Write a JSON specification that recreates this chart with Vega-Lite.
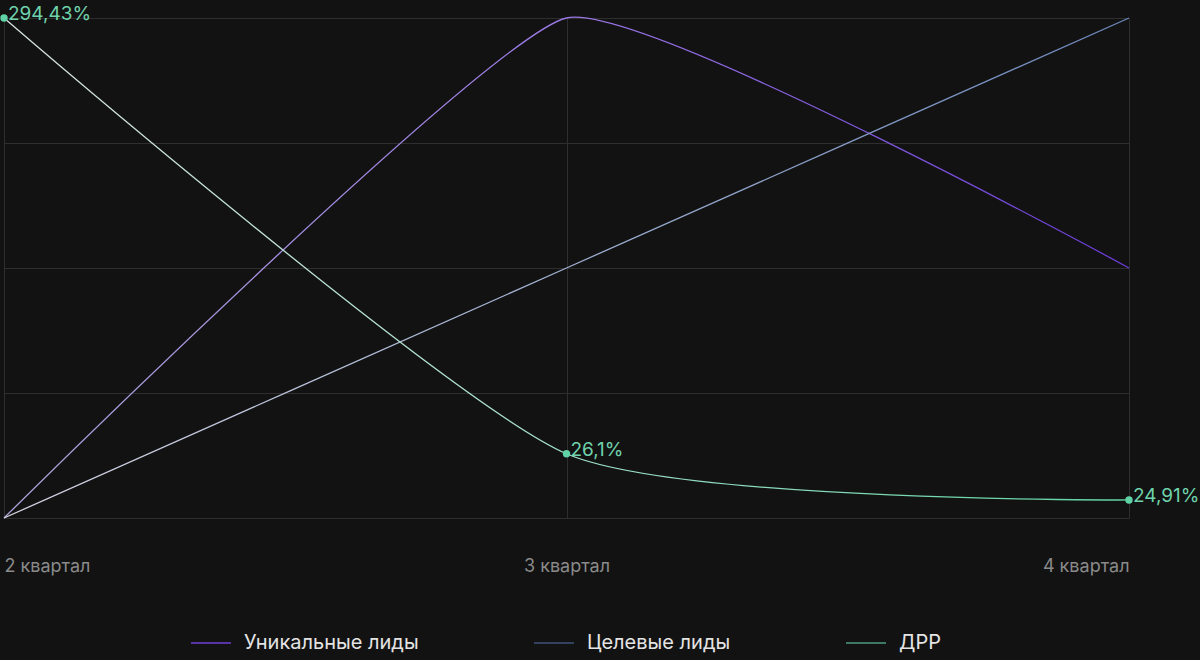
{
  "$schema": "https://vega.github.io/schema/vega-lite/v6.json",
  "width": 1125,
  "height": 500,
  "autosize": {"type": "none"},
  "padding": {"left": 4, "top": 18, "right": 71, "bottom": 142},
  "background": "#121212",
  "data": {
    "values": [
      {"quarter": "2 квартал", "series": "Уникальные лиды", "value": 0},
      {"quarter": "3 квартал", "series": "Уникальные лиды", "value": 2},
      {"quarter": "4 квартал", "series": "Уникальные лиды", "value": 1},
      {"quarter": "2 квартал", "series": "Целевые лиды", "value": 0},
      {"quarter": "3 квартал", "series": "Целевые лиды", "value": 1},
      {"quarter": "4 квартал", "series": "Целевые лиды", "value": 2},
      {"quarter": "2 квартал", "series": "ДРР", "value": 294.43},
      {"quarter": "3 квартал", "series": "ДРР", "value": 26.1},
      {"quarter": "4 квартал", "series": "ДРР", "value": 24.91}
    ]
  },
  "encoding": {
    "x": {
      "field": "quarter",
      "type": "ordinal",
      "sort": ["2 квартал", "3 квартал", "4 квартал"],
      "scale": {"type": "point", "padding": 0},
      "axis": {
        "title": null,
        "labelAngle": 0,
        "labelFlush": true,
        "ticks": false,
        "domain": false,
        "grid": true,
        "gridColor": "#2e2e2e",
        "labelColor": "#8a8a8a",
        "labelFont": "Inter",
        "labelFontSize": 18,
        "labelPadding": 39
      }
    }
  },
  "layer": [
    {
      "transform": [{"filter": "datum.series != 'ДРР'"}],
      "encoding": {
        "y": {
          "field": "value",
          "type": "quantitative",
          "scale": {"domain": [0, 2], "nice": false},
          "axis": {
            "title": null,
            "labels": false,
            "ticks": false,
            "domain": false,
            "values": [0, 0.5, 1, 1.5, 2],
            "gridColor": "#2e2e2e"
          }
        }
      },
      "layer": [
        {
          "transform": [{"filter": "datum.series == 'Уникальные лиды'"}],
          "mark": {
            "type": "line",
            "interpolate": "cardinal",
            "tension": 0.6,
            "strokeWidth": 1.3,
            "stroke": {
              "gradient": "linear",
              "x1": 0, "y1": 0, "x2": 1, "y2": 0,
              "stops": [
                {"offset": 0, "color": "#aea4da"},
                {"offset": 0.5, "color": "#9a78e6"},
                {"offset": 1, "color": "#6a3bd6"}
              ]
            }
          }
        },
        {
          "transform": [{"filter": "datum.series == 'Целевые лиды'"}],
          "mark": {
            "type": "line",
            "interpolate": "cardinal",
            "tension": 0.6,
            "strokeWidth": 1.3,
            "stroke": {
              "gradient": "linear",
              "x1": 0, "y1": 0, "x2": 1, "y2": 0,
              "stops": [
                {"offset": 0, "color": "#d4d4e2"},
                {"offset": 0.5, "color": "#9fb0d2"},
                {"offset": 1, "color": "#6c86ba"}
              ]
            }
          }
        }
      ]
    },
    {
      "transform": [{"filter": "datum.series == 'ДРР'"}],
      "encoding": {
        "y": {
          "field": "value",
          "type": "quantitative",
          "scale": {"type": "pow", "exponent": -2.15, "domain": [24.49, 294.43], "zero": false, "nice": false},
          "axis": null
        }
      },
      "layer": [
        {
          "mark": {
            "type": "line",
            "interpolate": "cardinal",
            "tension": 0.4,
            "strokeWidth": 1.3,
            "stroke": {
              "gradient": "linear",
              "x1": 0, "y1": 0, "x2": 1, "y2": 0,
              "stops": [
                {"offset": 0, "color": "#d8e2e2"},
                {"offset": 0.45, "color": "#a8e0cc"},
                {"offset": 1, "color": "#5ed4a4"}
              ]
            }
          }
        },
        {
          "mark": {"type": "point", "filled": true, "size": 55, "opacity": 1, "color": "#5fd3a5"}
        },
        {
          "transform": [
            {"calculate": "replace(format(datum.value, '.2~f'), '.', ',') + '%'", "as": "label"}
          ],
          "mark": {
            "type": "text",
            "align": "left",
            "baseline": "alphabetic",
            "dx": 4,
            "dy": 2,
            "font": "Inter",
            "fontSize": 19,
            "color": "#6fd3ab"
          },
          "encoding": {"text": {"field": "label"}}
        }
      ]
    },
    {
      "mark": {"type": "line", "strokeOpacity": 0},
      "encoding": {
        "color": {
          "field": "series",
          "type": "nominal",
          "sort": ["Уникальные лиды", "Целевые лиды", "ДРР"],
          "scale": {
            "domain": ["Уникальные лиды", "Целевые лиды", "ДРР"],
            "range": ["#6f3fd8", "#3f5378", "#4c9c7e"]
          },
          "legend": {
            "title": null,
            "orient": "none",
            "direction": "horizontal",
            "legendX": 186,
            "legendY": 604,
            "symbolType": "stroke",
            "symbolSize": 1600,
            "symbolStrokeWidth": 1.5,
            "symbolOpacity": 1,
            "labelOffset": 12,
            "columnPadding": 112,
            "labelFont": "Inter",
            "labelFontSize": 20,
            "labelColor": "#e4e4e4",
            "labelLimit": 400
          }
        }
      }
    }
  ],
  "resolve": {"scale": {"y": "independent"}},
  "config": {
    "view": {"stroke": null},
    "font": "Inter"
  }
}
